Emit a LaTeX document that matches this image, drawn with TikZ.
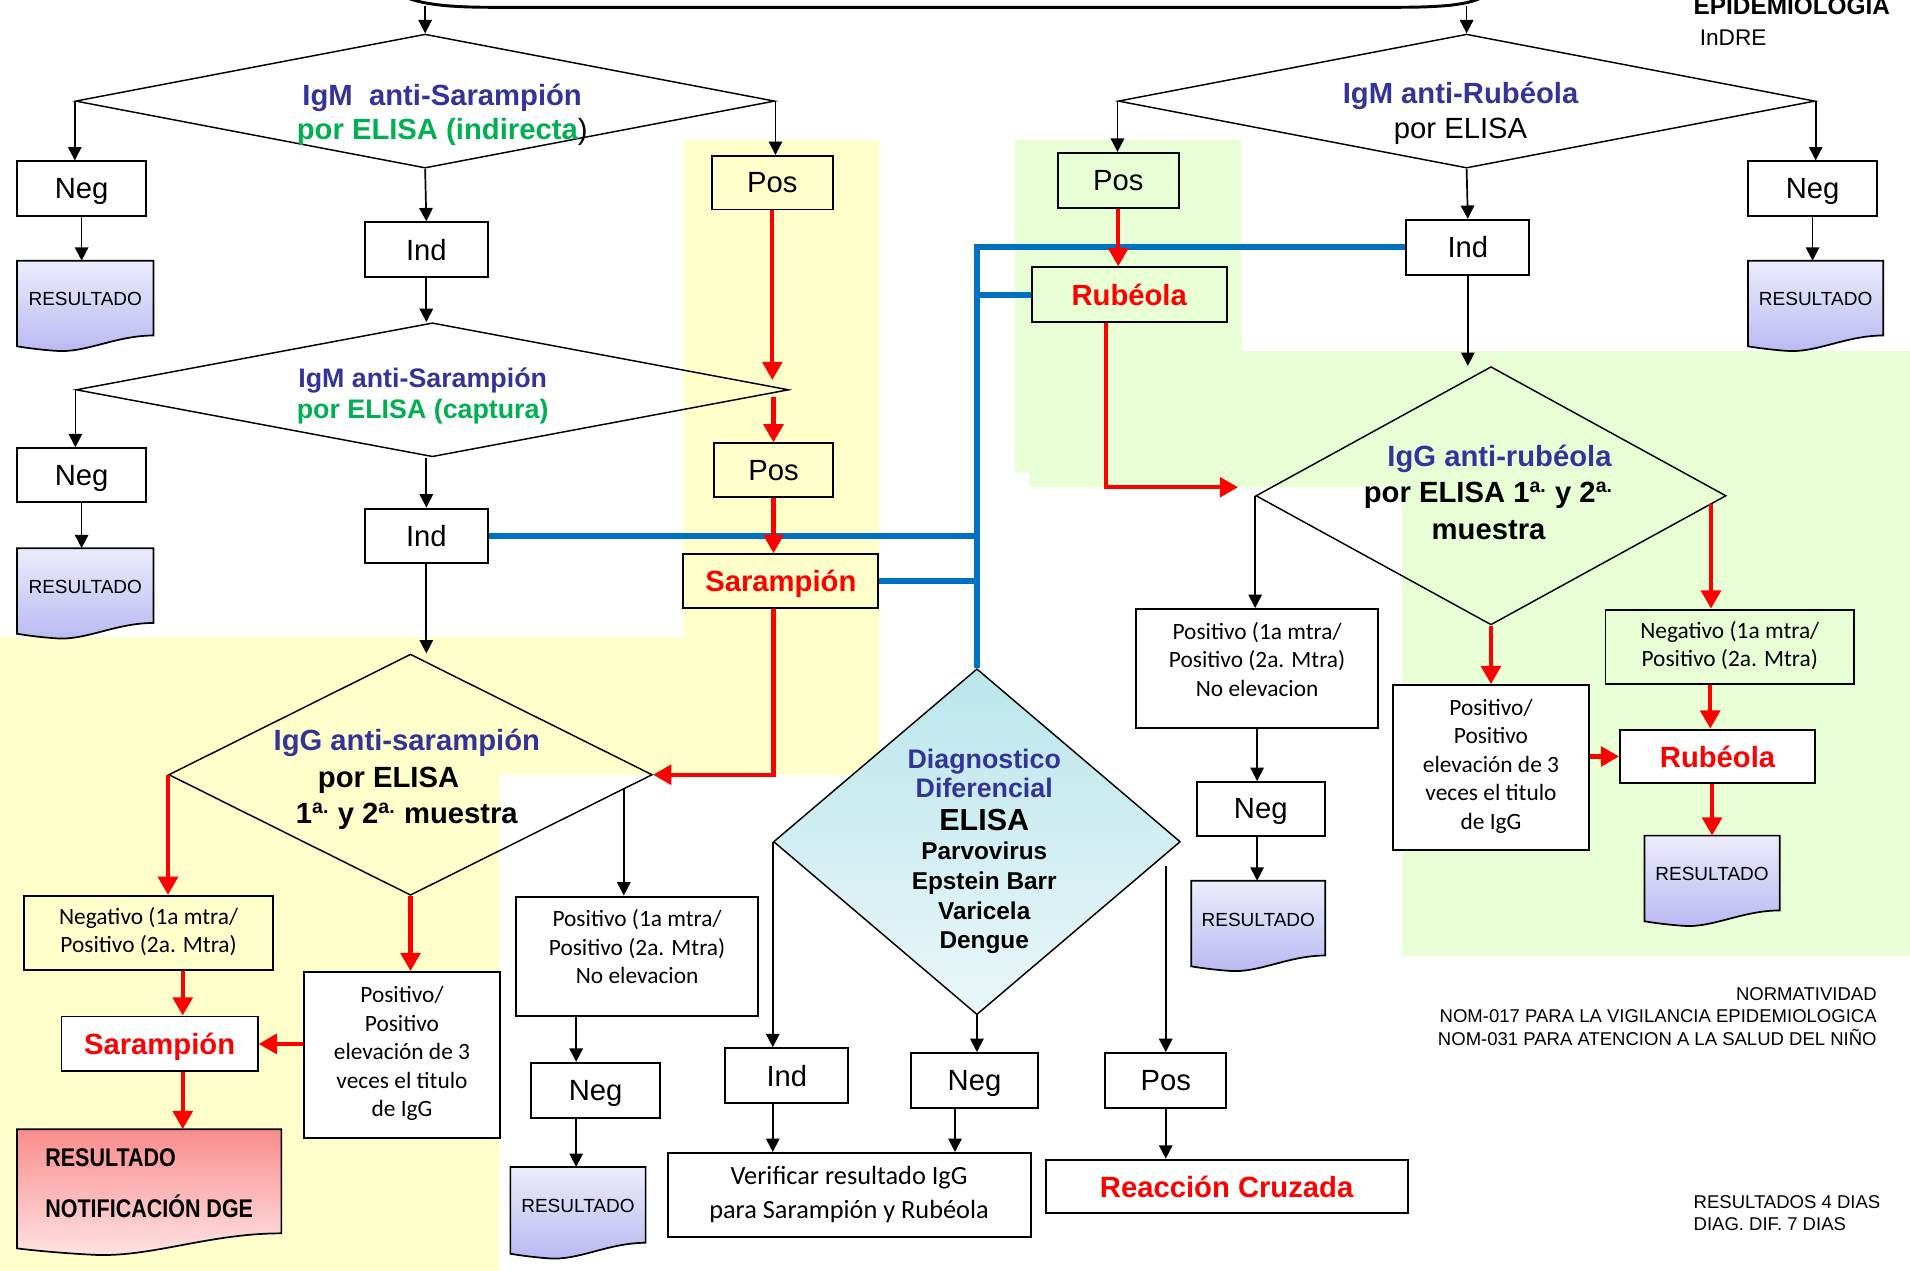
\documentclass[tikz,border=0pt]{standalone}
\usepackage{fontspec}
\setmainfont{Liberation Sans}
\newfontfamily\calibri{Carlito}
\newfontfamily\narrowsans[FakeStretch=0.84]{Liberation Sans}
\usetikzlibrary{arrows.meta,shapes.geometric}
\tikzset{>/.tip={Triangle[length=5.5pt,width=5.5pt]}}
\tikzset{rtip/.tip={Triangle[length=7.5pt,width=8pt]}}
\definecolor{titleblue}{RGB}{51,51,153}
\definecolor{elisagreen}{RGB}{0,176,80}
\definecolor{linkblue}{RGB}{0,112,192}
\definecolor{paleyellow}{RGB}{255,255,204}
\definecolor{palegreen}{RGB}{232,255,214}
\definecolor{docwhite}{RGB}{236,236,252}
\definecolor{docblue}{RGB}{184,184,242}
\definecolor{docpink}{RGB}{250,140,140}
\definecolor{pinklight}{RGB}{255,228,228}
\definecolor{cyantop}{RGB}{186,230,236}
\definecolor{cyanbot}{RGB}{234,247,249}
% document shape: [style]{name}{left}{top}{width}{height}{text}
\newcommand\resdoc[7][bluedoc]{%
  \shade[#1] (#3,#4) -- ({#3+#5},#4) -- ({#3+#5},{#4+0.83*#6})
    .. controls ({#3+0.72*#5},{#4+0.83*#6}) and ({#3+0.5*#5},{#4+1.03*#6}) .. ({#3+0.28*#5},{#4+#6})
    .. controls ({#3+0.15*#5},{#4+0.985*#6}) and ({#3+0.06*#5},{#4+0.965*#6}) .. (#3,{#4+0.95*#6}) -- cycle;
  \coordinate (#2top) at ({#3+#5/2},#4);
  \node(#2)[#1 text] at ({#3+#5/2},{#4+0.43*#6}){#7};}

\begin{document}
\begin{tikzpicture}[x=0.5pt,y=-0.5pt,
  wh/.style 2 args={minimum width=#1*0.5pt,minimum height=#2*0.5pt},
  box/.style={draw,line width=0.8pt,inner sep=1pt,text depth=0pt,font=\fontsize{12}{14}\selectfont},
  wbox/.style={box,fill=white},
  note/.style={align=center,text depth=2.5pt,font=\calibri\fontsize{9.6}{11.7}\selectfont},
  hit/.style={text=red,font=\bfseries\fontsize{12}{14}\selectfont},
  dtest/.style={diamond,draw,line width=0.6pt,inner sep=0pt},
  ttext/.style={align=center,font=\bfseries\fontsize{12}{14}\selectfont},
  arr/.style={->,line width=0.7pt},
  rarr/.style={-rtip,red,line width=1.8pt},
  link/.style={draw=linkblue,line width=2.5pt},
  bluedoc/.style={draw,line width=0.7pt,top color=docwhite,bottom color=docblue},
  bluedoc text/.style={font=\fontsize{7.8}{9}\selectfont},
  pinkdoc/.style={draw,line width=0.7pt,top color=docpink,bottom color=pinklight},
  pinkdoc text/.style={align=left,font=\narrowsans\bfseries\fontsize{10.5}{12}\selectfont},
  small/.style={font=\fontsize{7.6}{9.25}\selectfont,inner sep=0pt}]
\useasboundingbox (0,0) rectangle (1568,1043);

% coloured areas
\fill[paleyellow] (0,523) -- (561,523) -- (561,115) -- (722,115) -- (722,636) -- (410,636) -- (410,1043) -- (0,1043) -- cycle;
\fill[palegreen] (833,115) -- (1019,115) -- (1019,288) -- (1568,288) -- (1568,785) -- (1151,785) -- (1151,400) -- (845,400) -- (845,388) -- (833,388) -- cycle;

% box above the picture
\draw[line width=1.2pt] (329,-4) .. controls (345,4) and (370,6) .. (405,6) -- (1145,6) .. controls (1185,6) and (1208,4) .. (1220,-4);
\coordinate (topL) at (349,5);
\coordinate (topR) at (1204,5);

% results
\resdoc{res1}{14}{214}{112}{74}{RESULTADO}
\resdoc{res2}{14}{450}{112}{74}{RESULTADO}
\resdoc{res3}{1435}{214}{111}{74}{RESULTADO}
\resdoc{res4}{419}{958}{111}{75}{RESULTADO}
\resdoc{res5}{978}{723}{110}{74}{RESULTADO}
\resdoc{res6}{1350}{686}{111}{74}{RESULTADO}
\resdoc[pinkdoc]{dge}{14}{927}{217}{103}{RESULTADO\\[9pt]NOTIFICACIÓN DGE}

% tests
\node(igms1)[dtest,wh={574}{110}] at (349,83){};
\node(igms2)[dtest,wh={585}{110}] at (355,320){};
\node(igmr)[dtest,wh={572}{110}] at (1204,83){};
\node(iggr)[dtest,wh={386}{212}] at (1224,407){};
\node(iggs)[dtest,wh={397}{198}] at (337,636){};
\node(dd)[dtest,wh={334}{284},top color=cyantop,bottom color=cyanbot] at (802,691){};

\node(igms1t)[ttext] at (363,94){\textcolor{titleblue}{IgM\ \ anti-Sarampión}\\\textcolor{elisagreen}{por ELISA (indirecta}{\mdseries)}};
\node(igms2t)[ttext,font=\bfseries\fontsize{11}{13}\selectfont] at (347,325){\textcolor{titleblue}{IgM anti-Sarampión}\\\textcolor{elisagreen}{por ELISA (captura)}};
\node(igmrt)[ttext,font=\fontsize{12}{14.5}\selectfont] at (1199,93){\textcolor{titleblue}{\bfseries IgM anti-Rubéola}\\por ELISA};
\node(iggrt)[ttext,font=\bfseries\fontsize{12}{15}\selectfont] at (1222,404){\textcolor{titleblue}{IgG anti-rubéola\hspace*{-9pt}\mbox{}}\\por ELISA 1\textsuperscript{a.} y 2\textsuperscript{a.}\\muestra};
\node(iggst)[ttext,font=\bfseries\fontsize{12}{15}\selectfont] at (334,640){\textcolor{titleblue}{IgG anti-sarampión}\\por ELISA\hspace*{15pt}\mbox{}\\1\textsuperscript{a.} y 2\textsuperscript{a.} muestra};
\node(ddt)[align=center,font=\bfseries\fontsize{10}{12.2}\selectfont] at (808,699){\textcolor{titleblue}{\fontsize{11}{13}\selectfont Diagnostico}\\\textcolor{titleblue}{\fontsize{11}{13}\selectfont Diferencial}\\[1pt]{\fontsize{12.5}{14}\selectfont ELISA}\\Parvovirus\\Epstein Barr\\Varicela\\Dengue};

% answers
\node(neg1)[wbox,wh={106}{45}] at (67,155){Neg};
\node(ind1)[wbox,wh={101}{45}] at (350,205){Ind};
\node(pos1)[box,wh={99}{44}] at (634,150){Pos};
\node(neg2)[wbox,wh={106}{44}] at (67,390){Neg};
\node(ind2)[wbox,wh={101}{45}] at (350,440){Ind};
\node(pos2)[box,wh={98}{44}] at (635,386){Pos};
\node(sar1)[box,hit,wh={160}{44}] at (641,477){Sarampión};
\node(posr)[box,wh={99}{45}] at (918,148){Pos};
\node(rub1)[box,hit,wh={160}{45}] at (927,242){Rubéola};
\node(indr)[wbox,wh={101}{45}] at (1205,203){Ind};
\node(negr)[wbox,wh={106}{45}] at (1488,155){Neg};

\node(negs)[box,note,wh={205}{61}] at (122,766){Negativo (1a mtra/\\Positivo (2a. Mtra)};
\node(pps)[wbox,note,wh={161}{136}] at (330,866){Positivo/\\Positivo\\elevación de 3\\veces el titulo\\de IgG};
\node(posns)[wbox,note,text depth=8pt,wh={199}{98}] at (523,785){Positivo (1a mtra/\\Positivo (2a. Mtra)\\No elevacion};
\node(sars)[wbox,hit,wh={161}{45}] at (131,857){Sarampión};
\node(negs2)[wbox,wh={106}{45}] at (489,895){Neg};

\node(posnr)[wbox,note,text depth=8pt,wh={199}{98}] at (1032,549){Positivo (1a mtra/\\Positivo (2a. Mtra)\\No elevacion};
\node(ppr)[wbox,note,wh={161}{135}] at (1224,630){Positivo/\\Positivo\\elevación de 3\\veces el titulo\\de IgG};
\node(negvr)[box,note,wh={204}{61}] at (1420,531){Negativo (1a mtra/\\Positivo (2a. Mtra)};
\node(rub2)[wbox,hit,wh={160}{44}] at (1410,621){Rubéola};
\node(negr2)[wbox,wh={105}{44}] at (1035,664){Neg};

\node(ind3)[wbox,wh={101}{45}] at (646,883){Ind};
\node(neg3)[wbox,wh={105}{45}] at (800,887){Neg};
\node(pos3)[wbox,wh={99}{45}] at (957,887){Pos};
\node(verif)[wbox,align=center,text depth=2.5pt,font=\calibri\fontsize{10.8}{14}\selectfont,wh={298}{69}] at (697,981){Verificar resultado IgG\\para Sarampión y Rubéola};
\node(reac)[wbox,hit,wh={297}{44}] at (1007,974){Reacción Cruzada};

% notes
\node(epi)[anchor=base west,inner sep=0pt,font=\bfseries\fontsize{10}{12}\selectfont] at (1390,12){EPIDEMIOLOGIA};
\node(indre)[anchor=base west,inner sep=0pt,font=\fontsize{9.3}{11}\selectfont] at (1395,37){InDRE};
\node(norma)[small,align=right,anchor=north east] at (1541,810){NORMATIVIDAD\\NOM-017 PARA LA VIGILANCIA EPIDEMIOLOGICA\\NOM-031 PARA ATENCION A LA SALUD DEL NIÑO};
\node(dias)[small,align=left,anchor=north west] at (1390,981){RESULTADOS 4 DIAS\\DIAG. DIF. 7 DIAS};

% links to the differential test
\draw[link] (indr.west) -| (dd.north);
\draw[link] (rub1.west) -- (rub1.west -| dd.north);
\draw[link] (ind2.east) -- (ind2.east -| dd.north);
\draw[link] (sar1.east) -- (sar1.east -| dd.north);

\path[arr]
  (topL) edge (igms1.north)
  (topR) edge (igmr.north)
  (igms1.west) edge (igms1.west |- neg1.north)
  (igms1.south) edge (ind1.north)
  (igms1.east) edge (igms1.east |- pos1.north)
  (neg1.south) edge (neg1.south |- res1top)
  (ind1.south) edge (ind1.south |- igms2.north)
  (igms2.west) edge (igms2.west |- neg2.north)
  (neg2.south) edge (neg2.south |- res2top)
  (ind2.north |- igms2.south) edge (ind2.north)
  (ind2.south) edge (ind2.south |- iggs.north)
  ([xshift=-12pt,yshift=-6pt]iggs.east) edge ([xshift=-12pt]iggs.east |- posns.north)
  ([xshift=-25pt]posns.south) edge ([xshift=-25pt]posns.south |- negs2.north)
  ([xshift=-8pt]negs2.south) edge ([xshift=-8pt]negs2.south |- res4top)
  (igmr.west) edge (igmr.west |- posr.north)
  (igmr.south) edge (indr.north)
  (igmr.east) edge (igmr.east |- negr.north)
  (negr.south) edge (negr.south |- res3top)
  (indr.south) edge (indr.south |- iggr.north)
  (iggr.west) edge (iggr.west |- posnr.north)
  (posnr.south) edge (posnr.south |- negr2.north)
  (posnr.south |- negr2.south) edge (posnr.south |- res5top)
  (dd.west) edge (dd.west |- ind3.north)
  (dd.west |- ind3.south) edge (dd.west |- verif.north)
  (dd.south) edge (dd.south |- neg3.north)
  ([xshift=-8pt]neg3.south) edge ([xshift=-8pt]neg3.south |- verif.north)
  ([yshift=-10pt]pos3.north |- dd.east) edge (pos3.north)
  (pos3.south) edge (pos3.south |- reac.north);

\draw[rarr] (pos1.south) -- ([yshift=4pt]pos1.south |- igms2.east);
\draw[rarr] ([yshift=-3pt]pos2.north |- igms2.east) -- (pos2.north);
\draw[rarr] (pos2.south) -- (pos2.south |- sar1.north);
\draw[rarr] (pos2.south |- sar1.south) |- (iggs.east);
\draw[rarr] (posr.south) -- (posr.south |- rub1.north);
\draw[rarr] ([xshift=-9.5pt]rub1.south) |- ([xshift=-7pt,yshift=3.5pt]iggr.west);
\draw[rarr] (iggs.west) -- (iggs.west |- negs.north);
\draw[rarr] (iggs.south) -- (iggs.south |- pps.north);
\draw[rarr] ([xshift=14pt]negs.south) -- ([xshift=14pt]negs.south |- sars.north);
\draw[rarr] (pps.west |- sars.east) -- (sars.east);
\draw[rarr] ([xshift=9.5pt]sars.south) -- ([xshift=9.5pt]sars.south |- dgetop);
\draw[rarr] (iggr.south) -- (iggr.south |- ppr.north);
\draw[rarr] ([xshift=-6.5pt,yshift=-3.5pt]iggr.east) -- ([xshift=-6.5pt]iggr.east |- negvr.north);
\draw[rarr] ([xshift=-8pt]negvr.south) -- ([xshift=-8pt]negvr.south |- rub2.north);
\draw[rarr] (ppr.east |- rub2.west) -- (rub2.west);
\draw[rarr] (rub2.south -| res6top) -- (res6top);
\end{tikzpicture}
\end{document}
